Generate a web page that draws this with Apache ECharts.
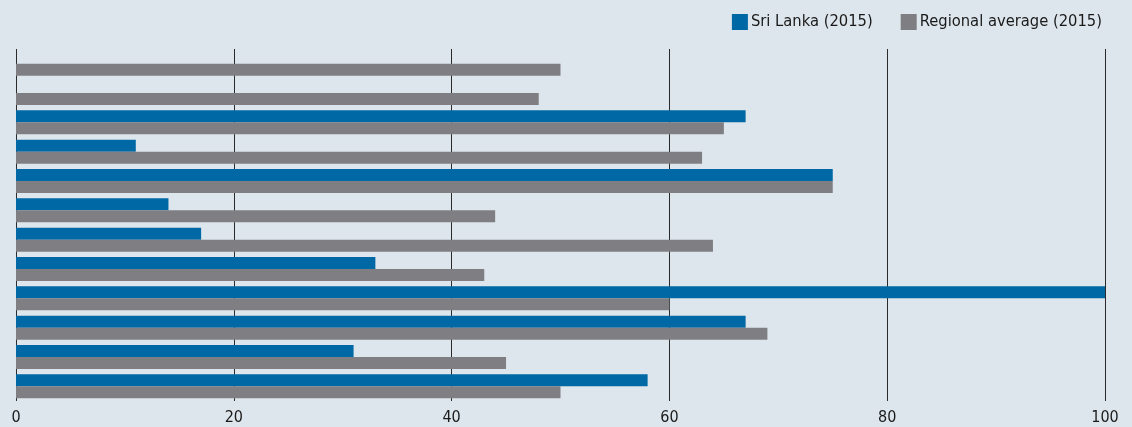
<!DOCTYPE html>
<html><head><meta charset="utf-8">
<script src="https://cdn.jsdelivr.net/npm/echarts@6/dist/echarts.min.js"></script>
<style>html,body{margin:0;padding:0;background:#dee6ed}#c{width:1132px;height:427px}</style>
</head><body><div id="c"></div>
<script>
const categories = ['1','2','3','4','5','6','7','8','9','10','11','12'];
const sriLanka = [null, null, 67, 11, 75, 14, 17, 33, 100, 67, 31, 58];
const regional = [50, 48, 65, 63, 75, 44, 64, 43, 60, 69, 45, 50];
const xTicks = [0, 20, 40, 60, 80, 100];
const FONT = '"DejaVu Sans Condensed","Liberation Sans Narrow","DejaVu Sans",sans-serif';
const chart = echarts.init(document.getElementById('c'));
chart.setOption({
  backgroundColor: '#dee6ed',
  animation: false,
  textStyle: {fontFamily: FONT},
  legend: {
    right: 25, top: 9, itemWidth: 16, itemHeight: 16, itemGap: 28,
    icon: 'rect',
    textStyle: {fontFamily: FONT, fontSize: 16.4, color: '#1a1a1a', padding: [0,0,0,-2]},
    data: ['Sri Lanka (2015)', 'Regional average (2015)']
  },
  grid: {left: 16, right: 27, top: 49, bottom: 26, containLabel: false},
  xAxis: {
    type: 'value', min: xTicks[0], max: xTicks[xTicks.length-1], interval: 20,
    axisLine: {show: false}, axisTick: {show: false},
    splitLine: {show: true, lineStyle: {color: '#2a2a2a', width: 1}},
    axisLabel: {fontFamily: FONT, fontSize: 16, color: '#1a1a1a', margin: 9}
  },
  yAxis: {
    type: 'category', data: categories, inverse: true,
    axisLine: {show: false}, axisTick: {show: false}, axisLabel: {show: false},
    splitLine: {show: false}
  },
  series: [
    {name: 'Sri Lanka (2015)', type: 'bar', data: sriLanka, barWidth: 12, barGap: '0%', itemStyle: {color: '#0068a5'}},
    {name: 'Regional average (2015)', type: 'bar', data: regional, barWidth: 12, barGap: '0%', itemStyle: {color: '#7f7f83'}}
  ]
});
</script></body></html>
